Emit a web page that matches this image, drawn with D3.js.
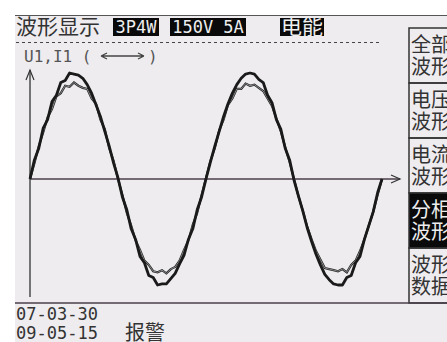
<!DOCTYPE html>
<html>
<head>
<meta charset="utf-8">
<script src="https://cdn.jsdelivr.net/npm/d3@7"></script>
<style>
  html, body { margin: 0; padding: 0; background: #fff; }
  svg { display: block; }
</style>
</head>
<body>
<div id="chart"></div>
<script>
// header and side menu labels
const titleText = '波形显示';
const headerTags = ['3P4W', '150V 5A', '电能'];
const axisLabel = 'U1,I1 (';
const menuItems = [['全部', '波形'], ['电压', '波形'], ['电流', '波形'], ['分相', '波形'], ['波形', '数据']];
const activeMenu = 3;
const dateLines = ['07-03-30', '09-05-15'];
const alarmText = '报警';

// sample times (ms), two 50 Hz cycles at 0.5 ms
const times = d3.range(0, 40.5, 0.5);

// U1 voltage trace, % of range
const voltage = [
  0, 18, 29, 48, 56, 73, 79, 91, 93, 100, 99, 98, 95, 89, 81, 70, 59, 45, 31, 15, 1,
  -17, -29, -47, -57, -73, -79, -91, -93, -100, -99, -99, -94, -89, -80, -72, -57, -47, -29, -17, 0,
  16, 31, 45, 59, 71, 81, 89, 95, 99, 100, 99, 94, 91, 79, 72, 56, 47, 29, 18, -1,
  -16, -30, -46, -59, -71, -81, -90, -95, -99, -100, -100, -93, -91, -79, -73, -57, -44, -31, -13, 0
];

// I1 current trace, % of range
const current = [
  0, 15, 31, 44, 58, 66, 78, 81, 88, 87, 91, 88, 86, 85, 76, 71, 56, 47, 29, 17, 0,
  -15, -32, -44, -58, -67, -77, -81, -87, -88, -86, -89, -85, -83, -77, -67, -58, -43, -32, -15, 1,
  17, 29, 46, 56, 70, 76, 85, 85, 90, 88, 89, 86, 83, 76, 69, 57, 45, 30, 16, 0,
  -16, -30, -45, -57, -68, -76, -84, -85, -86, -87, -85, -88, -81, -77, -68, -57, -44, -31, -15, 0
];

const W = 447, H = 342;
const lcd = '#eeecef';
const ink = '#1a1a1a';
const cjk = '"Noto Sans CJK SC", "Noto Sans", sans-serif';
const mono = '"DejaVu Sans Mono", "Liberation Mono", monospace';

const svg = d3.select('#chart').append('svg')
  .attr('width', W)
  .attr('height', H);

// screen area
svg.append('rect')
  .attr('x', 15).attr('y', 15)
  .attr('width', W - 15).attr('height', H - 15)
  .attr('fill', lcd);
svg.append('line')
  .attr('x1', 15).attr('x2', W).attr('y1', 15.5).attr('y2', 15.5)
  .attr('stroke', '#555').attr('stroke-width', 1);

// header
svg.append('text')
  .attr('x', 16).attr('y', 34)
  .style('font-family', cjk).style('font-size', '21px')
  .attr('fill', '#333')
  .text(titleText);

const tagX = [113, 170, 280];
const tagW = [46, 76, 44];
headerTags.forEach((t, i) => {
  svg.append('rect')
    .attr('x', tagX[i]).attr('y', 18)
    .attr('width', tagW[i]).attr('height', 18)
    .attr('fill', '#0a0a0a');
  const isCjk = /[\u4e00-\u9fff]/.test(t);
  svg.append('text')
    .attr('x', tagX[i] + tagW[i] / 2).attr('y', isCjk ? 34 : 33)
    .attr('text-anchor', 'middle')
    .style('font-family', isCjk ? cjk : mono)
    .style('font-size', isCjk ? '21px' : '17px')
    .attr('fill', '#eee')
    .text(t);
});

svg.append('line')
  .attr('x1', 16).attr('x2', 382).attr('y1', 42.5).attr('y2', 42.5)
  .attr('stroke', '#444').attr('stroke-width', 1)
  .attr('stroke-dasharray', '3,3');

// channel label
svg.append('text')
  .attr('x', 24).attr('y', 62)
  .style('font-family', mono).style('font-size', '16px')
  .attr('fill', '#555')
  .text(axisLabel);
svg.append('text')
  .attr('x', 148).attr('y', 62)
  .style('font-family', mono).style('font-size', '16px')
  .attr('fill', '#555')
  .text(')');
svg.append('path')
  .attr('d', 'M101,56 H144 M101,56 l6,-3 M101,56 l6,3 M144,56 l-6,-3 M144,56 l-6,3')
  .attr('stroke', '#444').attr('stroke-width', 1.3).attr('fill', 'none');

// scales
const x = d3.scaleLinear().domain([0, 40]).range([30, 382]);
const y = d3.scaleLinear().domain([-100, 100]).range([285, 73]);

// axes
svg.append('line')
  .attr('x1', x(0)).attr('x2', x(0)).attr('y1', 70).attr('y2', 297)
  .attr('stroke', '#333').attr('stroke-width', 1.3);
svg.append('path')
  .attr('d', `M${x(0) - 4},${80} L${x(0)},${70} L${x(0) + 4},${80}`)
  .attr('stroke', '#333').attr('stroke-width', 1.2).attr('fill', 'none');
svg.append('line')
  .attr('x1', x(0)).attr('x2', 400).attr('y1', y(0)).attr('y2', y(0))
  .attr('stroke', '#4a3f4a').attr('stroke-width', 1.4);
svg.append('path')
  .attr('d', `M${391},${y(0) - 4} L${400},${y(0)} L${391},${y(0) + 4}`)
  .attr('stroke', '#333').attr('stroke-width', 1.2).attr('fill', 'none');

// traces
const line = d3.line()
  .x((d, i) => x(times[i]))
  .y(d => y(d));

svg.append('path')
  .datum(current)
  .attr('d', line)
  .attr('fill', 'none').attr('stroke', '#222').attr('stroke-width', 2.2);
svg.append('path')
  .datum(current)
  .attr('d', line)
  .attr('fill', 'none').attr('stroke', '#b8b6b9').attr('stroke-width', 0.7);
svg.append('path')
  .datum(voltage)
  .attr('d', line)
  .attr('fill', 'none').attr('stroke', ink).attr('stroke-width', 2.8)
  .attr('stroke-linejoin', 'round');

// side menu
const menuTop = 28, menuH = 55, menuX = 409;
menuItems.forEach((lines, i) => {
  const top = menuTop + i * menuH;
  svg.append('rect')
    .attr('x', menuX).attr('y', top)
    .attr('width', W - menuX + 2).attr('height', menuH)
    .attr('fill', i === activeMenu ? '#0a0a0a' : 'none')
    .attr('stroke', '#333').attr('stroke-width', 1.5);
  lines.forEach((t, j) => {
    svg.append('text')
      .attr('x', menuX + 2).attr('y', top + 24 + j * 22)
      .style('font-family', cjk).style('font-size', '20px')
      .attr('fill', i === activeMenu ? '#eee' : '#333')
      .text(t);
  });
});

// bottom status
svg.append('line')
  .attr('x1', 15).attr('x2', W).attr('y1', 303).attr('y2', 303)
  .attr('stroke', '#4a3f4a').attr('stroke-width', 1.4);
dateLines.forEach((t, i) => {
  svg.append('text')
    .attr('x', 16).attr('y', 320 + i * 19)
    .style('font-family', mono).style('font-size', '17px')
    .attr('fill', '#333')
    .text(t);
});
svg.append('text')
  .attr('x', 125).attr('y', 340)
  .style('font-family', cjk).style('font-size', '20px')
  .attr('fill', '#333')
  .text(alarmText);
</script>
</body>
</html>
